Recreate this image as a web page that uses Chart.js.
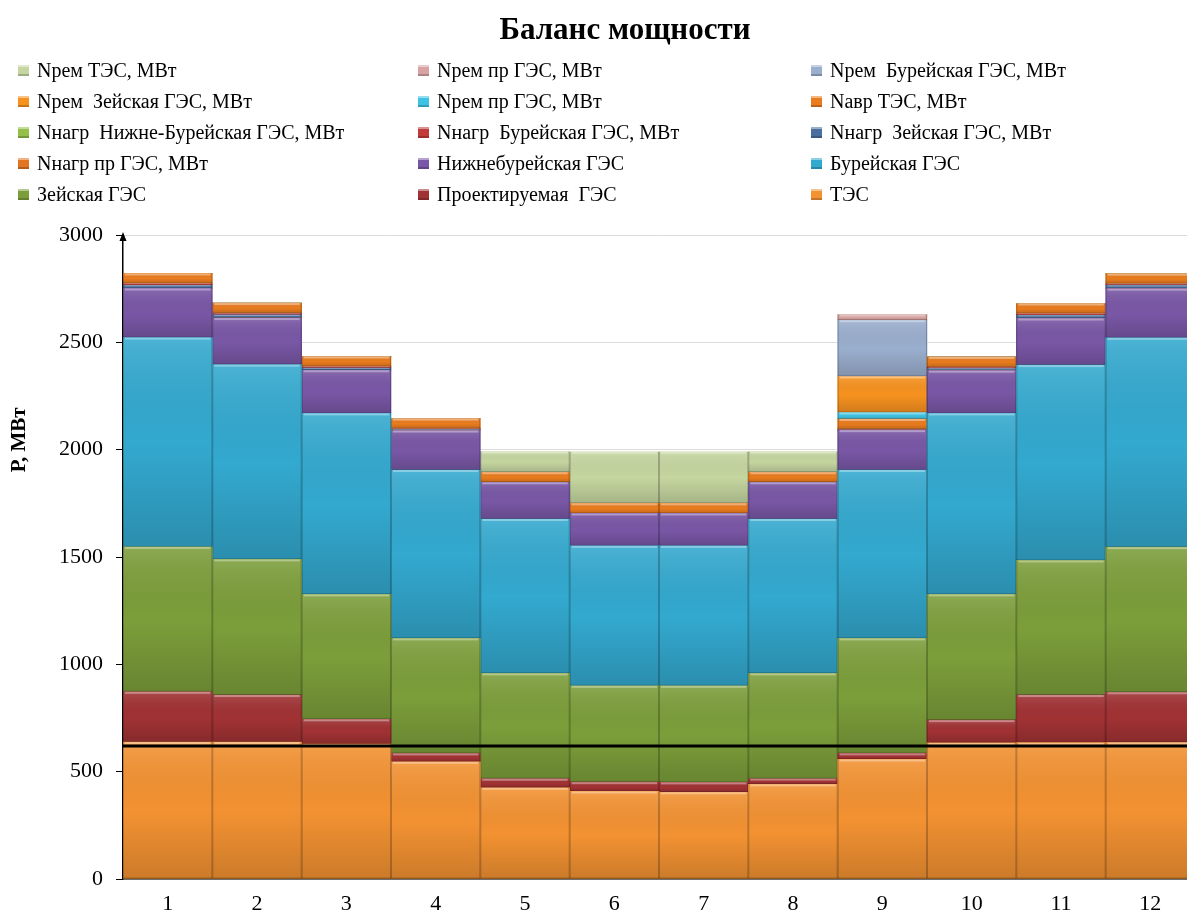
<!DOCTYPE html>
<html lang="ru">
<head>
<meta charset="utf-8">
<title>Баланс мощности</title>
<script src="https://cdn.jsdelivr.net/npm/chart.js@4.4.1/dist/chart.umd.min.js"></script>
<style>
    html, body {
        margin: 0;
        padding: 0;
        background: #fff;
        overflow: hidden;
        width: 1187px;
        height: 916px;
    }
    #title {
        position: absolute;
        top: 11px;
        left: 0;
        width: 1250px;
        text-align: center;
        font: bold 31px 'Liberation Serif', 'Times New Roman', serif;
        color: #000;
    }
    #legend {
        position: absolute;
        top: 55px;
        left: 18px;
        display: grid;
        grid-template-columns: 400px 393px 360px;
        grid-auto-rows: 31px;
        font: 20px 'Liberation Serif', 'Times New Roman', serif;
        color: #000;
    }
    #legend .item {
        display: flex;
        align-items: center;
        white-space: pre;
    }
    #legend .swatch {
        display: inline-block;
        width: 11px;
        height: 11px;
        margin-right: 8px;
        box-shadow: inset 0 2px 0 rgba(255,255,255,0.45), inset 0 -2px 0 rgba(0,0,0,0.2);
    }
    #chartBox {
        position: absolute;
        top: 0;
        left: 0;
        width: 1200px;
        height: 916px;
    }
</style>
</head>
<body>
<div id="chartBox"><canvas id="balanceChart"></canvas></div>
<div id="title">Баланс мощности</div>
<div id="legend"></div>
<script>
// месяцы
const months = ['1', '2', '3', '4', '5', '6', '7', '8', '9', '10', '11', '12'];

// ряды, снизу вверх по стопке, МВт
const tes          = [638, 638, 628, 546, 425, 408, 404, 441, 557, 634, 635, 636];
const projGes      = [234, 219, 116, 39, 42, 43, 46, 26, 28, 106, 222, 234];
const zeyaGes      = [675, 632, 582, 536, 491, 449, 450, 491, 536, 586, 627, 676];
const bureyaGes    = [975, 907, 843, 784, 719, 652, 652, 719, 784, 843, 910, 975];
const nizhBurGes   = [229, 217, 201, 184, 171, 151, 151, 171, 186, 199, 217, 229];
const loadProj     = [0, 0, 0, 0, 0, 0, 0, 0, 0, 0, 0, 0];
const loadZeya     = [15, 15, 10, 5, 0, 0, 0, 0, 0, 10, 15, 15];
const loadBureya   = [8, 8, 7, 4, 0, 0, 0, 0, 5, 7, 8, 8];
const loadNizhBur  = [0, 0, 0, 0, 0, 0, 0, 0, 0, 0, 0, 0];
const emergTes     = [47, 47, 47, 47, 47, 47, 47, 47, 47, 47, 47, 47];
const repProjCyan  = [0, 0, 0, 0, 0, 0, 0, 0, 30, 0, 0, 0];
const repZeya      = [0, 0, 0, 0, 0, 0, 0, 0, 168, 0, 0, 0];
const repBureya    = [0, 0, 0, 0, 0, 0, 0, 0, 262, 0, 0, 0];
const repProjPink  = [0, 0, 0, 0, 0, 0, 0, 0, 26, 0, 0, 0];
const repTes       = [0, 0, 0, 0, 96, 240, 240, 96, 0, 0, 0, 0];

// горизонтальная линия, МВт
const limitLevel = 620;

const serif = "'Liberation Serif', 'Times New Roman', serif";
Chart.defaults.font.family = serif;
Chart.defaults.color = '#000';

// объёмные грани столбцов
const bevelPlugin = {
    id: 'bevel',
    afterDatasetDraw(chart, args) {
        const meta = args.meta;
        if (meta.type !== 'bar') return;
        const ctx = chart.ctx;
        ctx.save();
        meta.data.forEach(el => {
            const p = el.getProps(['x', 'y', 'base', 'width'], true);
            const top = Math.min(p.y, p.base);
            const h = Math.abs(p.base - p.y);
            if (h < 0.5) return;
            const left = p.x - p.width / 2;
            const g = ctx.createLinearGradient(0, top, 0, top + h);
            g.addColorStop(0, 'rgba(255,255,255,0.12)');
            g.addColorStop(0.5, 'rgba(0,0,0,0)');
            g.addColorStop(1, 'rgba(0,0,0,0.16)');
            ctx.fillStyle = g;
            ctx.fillRect(left, top, p.width, h);
            ctx.fillStyle = 'rgba(255,255,255,0.35)';
            ctx.fillRect(left + 2, top, p.width - 4, Math.min(2, h / 3));
            ctx.fillStyle = 'rgba(0,0,0,0.22)';
            ctx.fillRect(left, top, 1, h);
            ctx.fillRect(left + p.width - 1, top, 1, h);
            ctx.fillRect(left, top + h - 1, p.width, Math.min(1, h / 3));
        });
        ctx.restore();
    }
};

// линия уровня, подпись оси Y и стрелка
const axisExtras = {
    id: 'axisExtras',
    afterDatasetsDraw(chart) {
        const ctx = chart.ctx;
        const area = chart.chartArea;
        const yPix = chart.scales.y.getPixelForValue(limitLevel);
        ctx.save();
        ctx.strokeStyle = '#000';
        ctx.lineWidth = 3;
        ctx.beginPath();
        ctx.moveTo(area.left, yPix);
        ctx.lineTo(area.right, yPix);
        ctx.stroke();
        ctx.restore();
    },
    afterDraw(chart) {
        const ctx = chart.ctx;
        const area = chart.chartArea;
        ctx.save();
        ctx.fillStyle = '#000';
        ctx.beginPath();
        ctx.moveTo(area.left, area.top - 3);
        ctx.lineTo(area.left - 3.5, area.top + 6);
        ctx.lineTo(area.left + 3.5, area.top + 6);
        ctx.closePath();
        ctx.fill();

        ctx.translate(20, area.top + (area.bottom - area.top) * 0.318);
        ctx.rotate(-Math.PI / 2);
        ctx.font = 'bold 21px ' + serif;
        ctx.textAlign = 'center';
        ctx.textBaseline = 'middle';
        ctx.fillText('Р, МВт', 0, 0);
        ctx.restore();
    }
};

// легенда в три колонки
const htmlLegend = {
    id: 'htmlLegend',
    afterUpdate(chart) {
        const box = document.getElementById('legend');
        box.innerHTML = '';
        chart.data.datasets
            .slice()
            .reverse()
            .forEach(ds => {
                const item = document.createElement('div');
                item.className = 'item';
                const sw = document.createElement('span');
                sw.className = 'swatch';
                sw.style.background = ds.backgroundColor;
                const txt = document.createElement('span');
                txt.textContent = ds.label;
                item.append(sw, txt);
                box.appendChild(item);
            });
    }
};

function bar(label, data, color) {
    return { label, data, backgroundColor: color, borderWidth: 0 };
}

new Chart(document.getElementById('balanceChart'), {
    type: 'bar',
    data: {
        labels: months,
        datasets: [
            bar('ТЭС', tes, '#F39232'),
            bar('Проектируемая  ГЭС', projGes, '#A13234'),
            bar('Зейская ГЭС', zeyaGes, '#7C9E3A'),
            bar('Бурейская ГЭС', bureyaGes, '#33A9CF'),
            bar('Нижнебурейская ГЭС', nizhBurGes, '#7957A6'),
            bar('Nнагр пр ГЭС, МВт', loadProj, '#E27522'),
            bar('Nнагр  Зейская ГЭС, МВт', loadZeya, '#4A6E9E'),
            bar('Nнагр  Бурейская ГЭС, МВт', loadBureya, '#C23B3B'),
            bar('Nнагр  Нижне-Бурейская ГЭС, МВт', loadNizhBur, '#94C047'),
            bar('Nавр ТЭС, МВт', emergTes, '#E97C1E'),
            bar('Nрем пр ГЭС, МВт', repProjCyan, '#3EC3E3'),
            bar('Nрем  Зейская ГЭС, МВт', repZeya, '#F7921F'),
            bar('Nрем  Бурейская ГЭС, МВт', repBureya, '#9AAECE'),
            bar('Nрем пр ГЭС, МВт', repProjPink, '#D9A3A3'),
            bar('Nрем ТЭС, МВт', repTes, '#C5D6A0')
        ]
    },
    options: {
        responsive: true,
        maintainAspectRatio: false,
        animation: false,
        layout: { padding: { top: 235, right: 5, bottom: 0, left: 0 } },
        datasets: { bar: { categoryPercentage: 1, barPercentage: 1, grouped: false } },
        plugins: {
            legend: { display: false },
            title: { display: false },
            tooltip: { enabled: false }
        },
        scales: {
            x: {
                stacked: true,
                grid: { display: false, drawTicks: false },
                border: { color: '#000', width: 1.5 },
                ticks: { font: { size: 22 }, padding: 12, color: '#000' },
                afterFit: scale => { scale.height = 37; }
            },
            y: {
                stacked: true,
                min: 0,
                max: 3000,
                ticks: {
                    stepSize: 500,
                    font: { size: 22 },
                    padding: 13,
                    color: '#000',
                    callback: value => String(value)
                },
                grid: { color: '#dcdcdc', tickColor: '#000', tickLength: 7 },
                border: { color: '#000', width: 1.5 },
                afterFit: scale => { scale.width = 123; }
            }
        }
    },
    plugins: [bevelPlugin, axisExtras, htmlLegend]
});
</script>
</body>
</html>
